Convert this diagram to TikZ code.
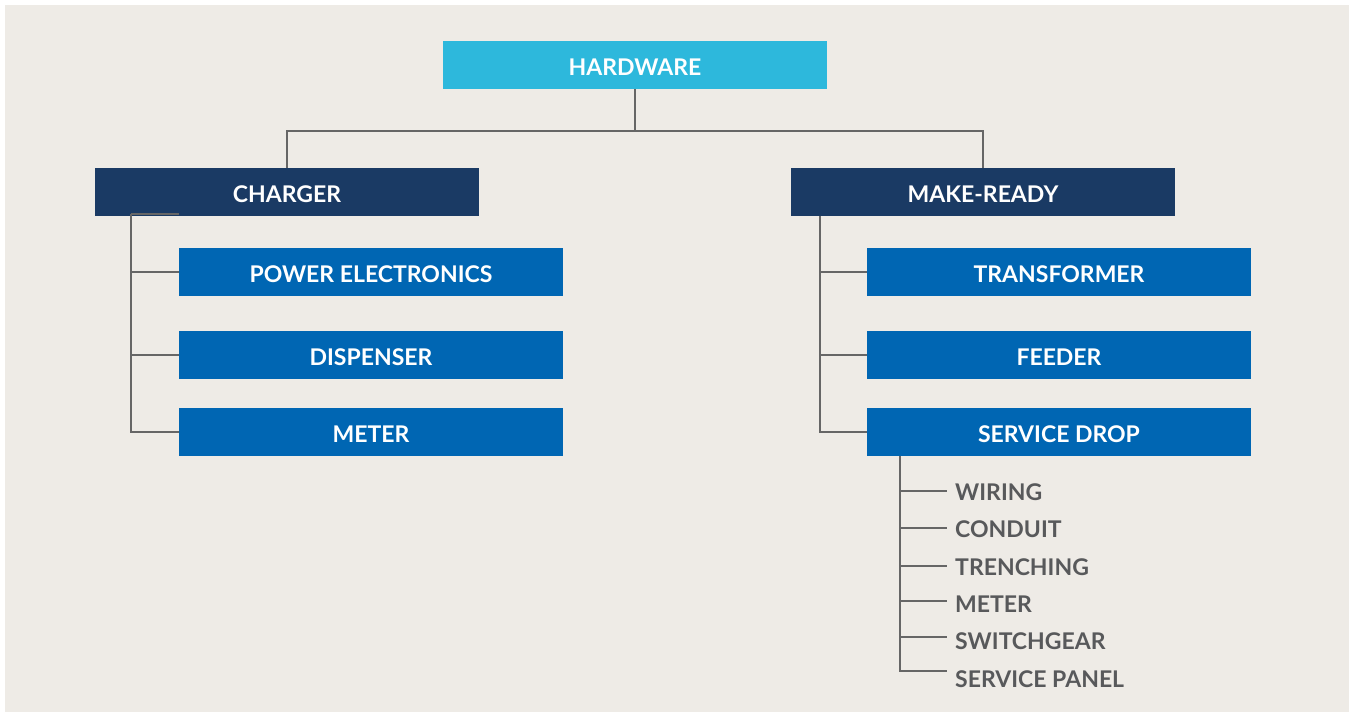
\documentclass[tikz,border=0pt]{standalone}
\usepackage{fontspec}
\setmainfont{Lato}
\definecolor{bg}{HTML}{EEEBE6}
\definecolor{topc}{HTML}{2DB8DC}
\definecolor{navy}{HTML}{1A3A64}
\definecolor{midb}{HTML}{0066B3}
\definecolor{linec}{HTML}{666666}
\definecolor{txtg}{HTML}{58595B}
\tikzset{
  box/.style={rectangle, inner sep=0pt, minimum width=384pt, minimum height=48pt, text height=20pt, text depth=0pt, text=white, font=\fontsize{23}{26}\selectfont\bfseries},
  topbox/.style={box, fill=topc},
  catbox/.style={box, fill=navy},
  subbox/.style={box, fill=midb},
  item/.style={anchor=west, inner sep=0pt, text height=19pt, text depth=0pt, text=txtg, font=\fontsize{23}{26}\selectfont\bfseries},
  conn/.style={draw=linec, line width=1.4pt},
}
\begin{document}
\begin{tikzpicture}[x=1pt,y=-1pt]
\useasboundingbox (0,0) rectangle (1349,712);
\fill[bg] (5,5) rectangle (1349,712);
% nodes
\node[topbox] (hw) at (635,65) {HARDWARE};
\node[catbox] (ch) at (287,192) {CHARGER};
\node[catbox] (mr) at (983,192) {MAKE-READY};
\node[subbox] (pe) at (371,272) {POWER ELECTRONICS};
\node[subbox] (di) at (371,355) {DISPENSER};
\node[subbox] (me) at (371,432) {METER};
\node[subbox] (tr) at (1059,272) {TRANSFORMER};
\node[subbox] (fe) at (1059,355) {FEEDER};
\node[subbox] (sd) at (1059,432) {SERVICE DROP};
\node[item] (i1) at (955,491) {WIRING};
\node[item] (i2) at (955,528) {CONDUIT};
\node[item] (i3) at (955,566) {TRENCHING};
\node[item] (i4) at (955,603) {METER};
\node[item] (i5) at (955,640) {SWITCHGEAR};
\node[item] (i6) at (955,678) {SERVICE PANEL};
% coordinates
\coordinate (hj) at (635,131);
\coordinate (lj) at (131,214);
\coordinate (rj) at (820,216);
\coordinate (sj) at (900,456);
% top connectors
\draw[conn] (hw.south) -- (hj);
\draw[conn] (ch.north) |- (hj) -| (mr.north);
% charger
\draw[conn] (lj) -- (179,214);
\draw[conn] (lj) |- (me.west);
\draw[conn] (lj |- pe.west) -- (pe.west);
\draw[conn] (lj |- di.west) -- (di.west);
% make-ready
\draw[conn] (rj) |- (sd.west);
\draw[conn] (rj |- tr.west) -- (tr.west);
\draw[conn] (rj |- fe.west) -- (fe.west);
% service drop list
\draw[conn] (sj) -- (900,671) -- (947,671);
\draw[conn] (900,491) -- (947,491);
\draw[conn] (900,528) -- (947,528);
\draw[conn] (900,566) -- (947,566);
\draw[conn] (900,601) -- (947,601);
\draw[conn] (900,637) -- (947,637);
\end{tikzpicture}
\end{document}
